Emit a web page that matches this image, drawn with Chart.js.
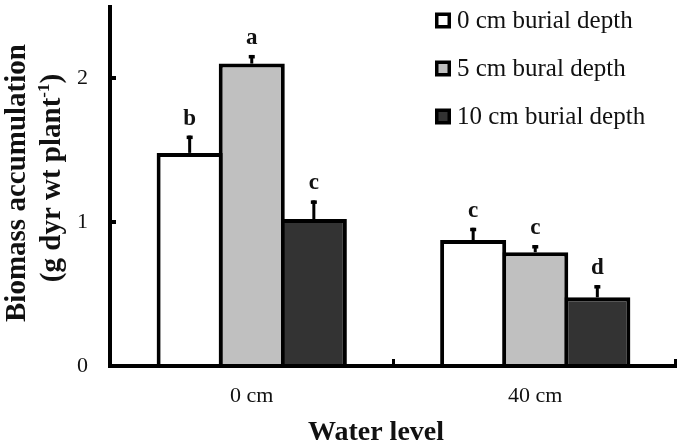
<!DOCTYPE html>
<html><head><meta charset="utf-8">
<script src="https://cdn.jsdelivr.net/npm/chart.js@4.4.0/dist/chart.umd.min.js"></script>
<style>html,body{margin:0;padding:0;background:#fff;}#wrap{width:686px;height:447px;}</style>
</head><body><div id="wrap"><canvas id="c" width="686" height="447"></canvas></div>
<script>
const categories = ['0 cm', '40 cm'];
const seriesNames = ['0 cm burial depth', '5 cm bural depth', '10 cm burial depth'];
const depth0 = [1.48, 0.875];
const depth5 = [2.10, 0.79];
const depth10 = [1.02, 0.477];
const err0 = [0.12, 0.085];
const err5 = [0.06, 0.05];
const err10 = [0.13, 0.085];
const letters0 = ['b', 'c'];
const letters5 = ['a', 'c'];
const letters10 = ['c', 'd'];
const yTicks = [0, 1, 2];
const yTitleMain = 'Biomass accumulation';
const yTitleUnit = '(g dyr wt plant';
const yTitleSup = '-1';
const yTitleEnd = ')';
const xTitle = 'Water level';

const SERIF = "'Liberation Serif', 'Times New Roman', serif";
const colors = ['#ffffff', '#c0c0c0', '#333333'];
const errs = [err0, err5, err10];
const letters = [letters0, letters5, letters10];

const decor = {
  id: 'decor',
  afterDatasetsDraw(chart) {
    const ctx = chart.ctx;
    const ca = chart.chartArea;
    const xs = chart.scales.x, ys = chart.scales.y;
    ctx.save();
    chart.data.datasets.forEach((ds, di) => {
      const meta = chart.getDatasetMeta(di);
      meta.data.forEach((bar, i) => {
        const v = ds.data[i];
        const e = errs[di][i];
        const x = bar.x;
        const y0 = ys.getPixelForValue(v);
        const y1 = ys.getPixelForValue(v + e);
        ctx.fillStyle = '#000';
        ctx.fillRect(x - 1.5, y1, 3, y0 - y1);
        ctx.fillRect(x - 3, y1, 6, 3.5);
        ctx.font = 'bold 23px ' + SERIF;
        ctx.textAlign = 'center';
        ctx.textBaseline = 'alphabetic';
        ctx.fillStyle = '#111';
        ctx.fillText(letters[di][i], x, y1 - 11);
      });
    });
    ctx.fillStyle = '#000';
    ctx.fillRect(ca.left - 2, ca.top - 1, 4, ca.bottom - ca.top + 3);
    ctx.fillRect(ca.left - 2, ca.bottom - 2, ca.right - ca.left + 2, 4);
    yTicks.forEach(v => {
      if (v === 0) return;
      const y = ys.getPixelForValue(v);
      ctx.fillRect(ca.left, y - 2, 6, 4);
    });
    const mid = (xs.getPixelForValue(0) + xs.getPixelForValue(1)) / 2;
    [mid, ca.right - 1.5].forEach(x => {
      ctx.fillRect(x - 1.5, ca.bottom - 7, 3, 7);
    });
    ctx.restore();
  },
  afterDraw(chart) {
    const ctx = chart.ctx;
    ctx.save();
    chart.data.datasets.forEach((ds, di) => {
      const base = 27.5 + di * 48;
      ctx.fillStyle = '#000';
      ctx.fillRect(435, base - 15, 16, 16);
      ctx.fillStyle = ds.backgroundColor;
      ctx.fillRect(438.5, base - 11.5, 9, 9);
      ctx.fillStyle = '#111';
      ctx.font = '25px ' + SERIF;
      ctx.textAlign = 'left';
      ctx.textBaseline = 'alphabetic';
      ctx.fillText(ds.label, 457, base);
    });
    ctx.font = 'bold 28px ' + SERIF;
    ctx.textAlign = 'center';
    ctx.fillStyle = '#111';
    ctx.fillText(xTitle, 376, 440);
    ctx.translate(25, 183);
    ctx.rotate(-Math.PI / 2);
    ctx.font = 'bold 29px ' + SERIF;
    ctx.textAlign = 'center';
    ctx.fillText(yTitleMain, 0, 0);
    ctx.restore();
    ctx.save();
    ctx.translate(60, 178);
    ctx.rotate(-Math.PI / 2);
    ctx.fillStyle = '#111';
    ctx.textAlign = 'left';
    ctx.font = 'bold 29px ' + SERIF;
    const w1 = ctx.measureText(yTitleUnit).width;
    const w3 = ctx.measureText(yTitleEnd).width;
    ctx.font = 'bold 17px ' + SERIF;
    const w2 = ctx.measureText(yTitleSup).width;
    let x = -(w1 + w2 + w3) / 2;
    ctx.font = 'bold 29px ' + SERIF;
    ctx.fillText(yTitleUnit, x, 0);
    x += w1;
    ctx.font = 'bold 17px ' + SERIF;
    ctx.fillText(yTitleSup, x, -11);
    x += w2;
    ctx.font = 'bold 29px ' + SERIF;
    ctx.fillText(yTitleEnd, x, 0);
    ctx.restore();
  }
};

new Chart(document.getElementById('c'), {
  type: 'bar',
  data: {
    labels: categories,
    datasets: [
      { label: seriesNames[0], data: depth0, backgroundColor: colors[0] },
      { label: seriesNames[1], data: depth5, backgroundColor: colors[1] },
      { label: seriesNames[2], data: depth10, backgroundColor: colors[2] }
    ]
  },
  options: {
    responsive: false,
    devicePixelRatio: 1,
    animation: false,
    layout: { padding: { top: 6, right: 9, left: 0, bottom: 0 } },
    datasets: {
      bar: {
        borderColor: '#000',
        borderWidth: 4,
        borderSkipped: 'start',
        categoryPercentage: 0.657,
        barPercentage: 1.064
      }
    },
    plugins: { legend: { display: false }, tooltip: { enabled: false } },
    scales: {
      x: {
        grid: { display: false, drawTicks: false },
        border: { display: false },
        ticks: { color: '#111', font: { family: SERIF, size: 22 }, padding: 17 },
        afterFit: s => { s.height = 81; s.paddingLeft = 0; s.paddingRight = 0; }
      },
      y: {
        min: 0, max: 2.5,
        grid: { display: false, drawTicks: false },
        border: { display: false },
        afterBuildTicks: s => { s.ticks = yTicks.map(v => ({ value: v })); },
        ticks: { color: '#111', font: { family: SERIF, size: 22 }, padding: 22 },
        afterFit: s => { s.width = 110; s.paddingTop = 0; s.paddingBottom = 0; }
      }
    }
  },
  plugins: [decor]
});
</script></body></html>
